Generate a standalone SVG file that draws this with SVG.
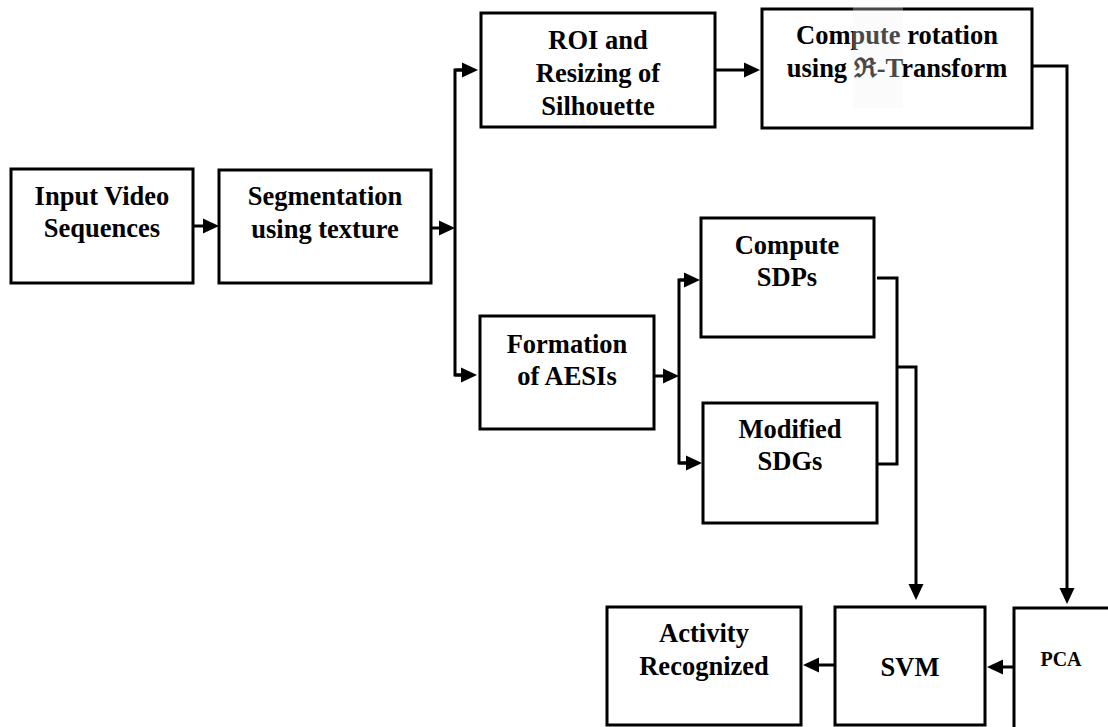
<svg xmlns="http://www.w3.org/2000/svg" width="1108" height="727" viewBox="0 0 1108 727">
  <style>
    .box { fill: #ffffff; stroke: #000000; stroke-width: 3; }
    .lbl { font-family: "Liberation Serif", "DejaVu Serif", "Times New Roman", serif; font-weight: bold; font-size: 26.5px; fill: #000000; text-anchor: middle; }
    .small { font-size: 20px; }
    .wire { fill: none; stroke: #000000; stroke-width: 3; }
    .arr { fill: none; stroke: #000000; stroke-width: 3; marker-end: url(#head); }
  </style>
  <defs>
    <marker id="head" markerUnits="userSpaceOnUse" markerWidth="16" markerHeight="16" refX="8" refY="8" orient="auto">
      <path d="M0,0.5 L16,8 L0,15.5 z" fill="#000000"/>
    </marker>
  </defs>
  <rect width="1108" height="727" fill="#ffffff"/>

  <!-- connectors -->
  <g id="connectors">
    <line class="arr" x1="193" y1="226" x2="211" y2="226"/>
    <line class="arr" x1="431" y1="228" x2="447" y2="228"/>
    <polyline class="wire" points="470,70 455,70 455,375 470,375"/>
    <line class="arr" x1="455" y1="70" x2="470" y2="70"/>
    <line class="arr" x1="455" y1="375" x2="469" y2="375"/>
    <line class="arr" x1="715" y1="70" x2="752" y2="70"/>
    <line class="arr" x1="654" y1="376" x2="671" y2="376"/>
    <polyline class="wire" points="692,280 679,280 679,463 694,463"/>
    <line class="arr" x1="679" y1="280" x2="692" y2="280"/>
    <line class="arr" x1="679" y1="463" x2="694" y2="463"/>
    <polyline class="wire" points="877,278 897,278 897,464 877,464"/>
    <polyline class="arr" points="897,367 916,367 916,592"/>
    <polyline class="arr" points="1032,66 1067,66 1067,596"/>
    <line class="arr" x1="1014" y1="667" x2="995" y2="667"/>
    <line class="arr" x1="835" y1="665" x2="811" y2="665"/>
  </g>

  <g id="input-video">
    <rect class="box" x="11" y="169" width="182" height="114"/>
    <text class="lbl" x="102" y="205">Input Video</text>
    <text class="lbl" x="102" y="237">Sequences</text>
  </g>

  <g id="segmentation">
    <rect class="box" x="219" y="170" width="212" height="113"/>
    <text class="lbl" x="325" y="205">Segmentation</text>
    <text class="lbl" x="325" y="238">using texture</text>
  </g>

  <g id="roi-resize">
    <rect class="box" x="481" y="13" width="234" height="114"/>
    <text class="lbl" x="598" y="49">ROI and</text>
    <text class="lbl" x="598" y="82">Resizing of</text>
    <text class="lbl" x="598" y="115">Silhouette</text>
  </g>

  <g id="r-transform">
    <rect class="box" x="762" y="9" width="270" height="119"/>
    <text class="lbl" x="897" y="44">Compute rotation</text>
    <text class="lbl" x="897" y="77">using ℜ-Transform</text>
    <!-- pasted patch over the middle of the label -->
    <rect x="853" y="6" width="50" height="102" fill="#f2f2f2" opacity="0.3"/>
  </g>

  <g id="formation-aesi">
    <rect class="box" x="480" y="316" width="174" height="113"/>
    <text class="lbl" x="567" y="353">Formation</text>
    <text class="lbl" x="567" y="385">of AESIs</text>
  </g>

  <g id="compute-sdp">
    <rect class="box" x="701" y="218" width="173" height="119"/>
    <text class="lbl" x="787" y="254">Compute</text>
    <text class="lbl" x="787" y="286">SDPs</text>
  </g>

  <g id="modified-sdg">
    <rect class="box" x="703" y="403" width="174" height="120"/>
    <text class="lbl" x="790" y="438">Modified</text>
    <text class="lbl" x="790" y="470">SDGs</text>
  </g>

  <g id="activity">
    <rect class="box" x="607" y="607" width="194" height="118"/>
    <text class="lbl" x="704" y="642">Activity</text>
    <text class="lbl" x="704" y="675">Recognized</text>
  </g>

  <g id="svm">
    <rect class="box" x="835" y="607" width="150" height="118"/>
    <text class="lbl" x="910" y="676">SVM</text>
  </g>

  <g id="pca">
    <rect class="box" x="1014" y="608" width="130" height="140"/>
    <text class="lbl small" x="1061" y="666">PCA</text>
  </g>
</svg>
